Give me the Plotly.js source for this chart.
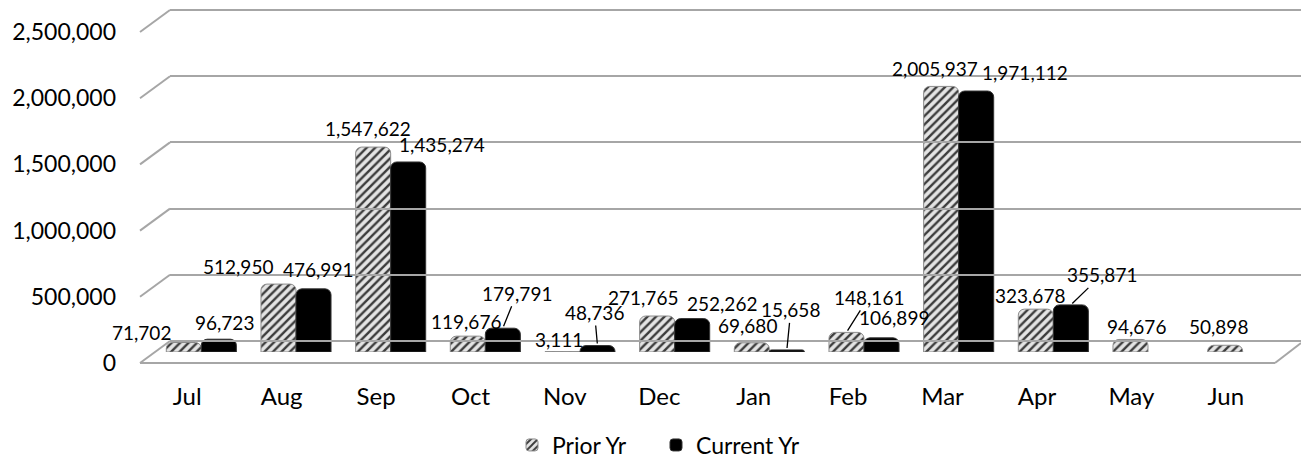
<!DOCTYPE html>
<html>
<head>
<meta charset="utf-8">
<script src="https://cdn.plot.ly/plotly-3.0.1.min.js"></script>
<style>html,body{margin:0;padding:0;background:#fff;}#chart{width:1301px;height:460px;}</style>
</head>
<body>
<div id="chart"></div>
<script>
const months = ['Jul','Aug','Sep','Oct','Nov','Dec','Jan','Feb','Mar','Apr','May','Jun'];
const priorYr = [71702, 512950, 1547622, 119676, 3111, 271765, 69680, 148161, 2005937, 323678, 94676, 50898];
const currentYr = [96723, 476991, 1435274, 179791, 48736, 252262, 15658, 106899, 1971112, 355871, null, null];
const yTickVals = [0, 500000, 1000000, 1500000, 2000000, 2500000];
const yTickText = ['0', '500,000', '1,000,000', '1,500,000', '2,000,000', '2,500,000'];
const seriesNames = ['Prior Yr', 'Current Yr'];

// label placement styles (pixel offsets from bar top, and whether a leader line is drawn)
const priorLabelOffsets = [[-42,-10],[-41,-18],[-5,-19],[-2,-15],[-4,-12],[-14,-19],[-4,-17],[22,-35],[-6,-18],[-6,-14],[6,-13],[-7,-19]];
const priorLeader = [0,0,0,0,0,0,0,1,0,0,0,0];
const currentLabelOffsets = [[6,-17],[4,-19],[34,-17],[14,-35],[-3,-33],[30,-15],[4,-40],[12,-20],[49,-19],[31,-30],[0,0],[0,0]];
const currentLeader = [0,0,0,1,1,0,1,0,0,1,0,0];

const W = 1301, H = 460;
const px = x => Math.min(1, x / W);
const py = y => 1 - y / H;
const yMax = 2500000;
const FONT = 'Lato, "Open Sans", sans-serif';
const fmt = v => v.toLocaleString('en-US');

// geometry (pixels)
const front = {x0: 140, x1: 1273, y0: 363, y1: 32};
const bars  = {x0: 154, x1: 1290, y0: 352, y1: 21};
const back  = {x0: 170, x1: 1301, y0: 341, y1: 10};
const barHalf = 17.5;
const pad = 20000; // small range padding so edge gridlines are drawn
const padPx = pad * (back.y0 - back.y1) / yMax;

const traces = [
  {x: months, y: priorYr, xaxis: 'x', yaxis: 'y', type: 'scatter', mode: 'markers',
   marker: {opacity: 0}, hoverinfo: 'skip', showlegend: false},
  {x: months, y: priorYr, xaxis: 'x3', yaxis: 'y3', type: 'scatter', mode: 'markers',
   marker: {opacity: 0}, hoverinfo: 'skip', showlegend: false},
  {x: months, y: priorYr, name: seriesNames[0], type: 'bar', xaxis: 'x2', yaxis: 'y2',
   marker: {color: '#d9d9d9', cornerradius: 6,
            line: {color: '#8c8c8c', width: 1},
            pattern: {shape: '/', fgcolor: '#3c3c3c', bgcolor: '#e4e4e4', size: 6, solidity: 0.4}},
   hoverinfo: 'skip'},
  {x: months, y: currentYr, name: seriesNames[1], type: 'bar', xaxis: 'x2', yaxis: 'y2',
   marker: {color: '#000000', cornerradius: 6, line: {color: '#333333', width: 1}},
   hoverinfo: 'skip'}
];

const annotations = [];
function addLabels(vals, offs, leaders, shift) {
  vals.forEach((v, i) => {
    if (v === null) return;
    const [dx, dy] = offs[i];
    const a = {x: months[i], y: v, xref: 'x2', yref: 'y2', text: fmt(v),
      font: {family: FONT, size: 19, color: '#000'}};
    if (leaders[i]) {
      Object.assign(a, {showarrow: true, arrowhead: 0, arrowwidth: 1.3, arrowcolor: '#000',
        ax: dx, ay: dy, axref: 'pixel', ayref: 'pixel', xshift: shift, standoff: 2});
    } else {
      Object.assign(a, {showarrow: false, xshift: shift + dx, yshift: -dy,
        xanchor: 'center', yanchor: 'middle'});
    }
    annotations.push(a);
  });
}
addLabels(priorYr, priorLabelOffsets, priorLeader, -barHalf);
addLabels(currentYr, currentLabelOffsets, currentLeader, barHalf);

// 3D wall / floor decoration
const shapes = [];
const lineStyle = {color: '#a6a6a6', width: 2};
const scaleF = (front.y0 - front.y1) / yMax;
const scaleB = (back.y0 - back.y1) / yMax;
yTickVals.forEach(v => {
  shapes.push({type: 'line', xref: 'paper', yref: 'paper',
    x0: px(front.x0), y0: py(front.y0 - v * scaleF),
    x1: px(back.x0), y1: py(back.y0 - v * scaleB), line: lineStyle});
});
shapes.push({type: 'line', xref: 'paper', yref: 'paper',
  x0: px(front.x0), y0: py(front.y0), x1: px(1275), y1: py(front.y0), line: lineStyle});
shapes.push({type: 'line', xref: 'paper', yref: 'paper',
  x0: px(1275), y0: py(front.y0), x1: px(1301), y1: py(343), line: lineStyle});

const layout = {
  width: W, height: H,
  margin: {l: 0, r: 0, t: 0, b: 0, autoexpand: false},
  paper_bgcolor: '#ffffff', plot_bgcolor: 'rgba(0,0,0,0)',
  font: {family: FONT, color: '#000'},
  showlegend: true,
  barmode: 'group', bargap: 0.26, bargroupgap: 0,
  xaxis: {domain: [px(front.x0), px(front.x1)], type: 'category', categoryarray: months,
    range: [-0.5, 11.5], showgrid: false, zeroline: false, showline: false, ticks: '',
    tickfont: {family: FONT, size: 24, color: '#000'}, ticklabelstandoff: 17,
    anchor: 'y', automargin: false, fixedrange: true},
  yaxis: {domain: [py(front.y0), py(front.y1)], range: [0, yMax], tickvals: yTickVals, ticktext: yTickText,
    showgrid: false, zeroline: false, showline: false, ticks: '',
    tickfont: {family: FONT, size: 23, color: '#000'}, ticklabelstandoff: 23,
    anchor: 'x', automargin: false, fixedrange: true},
  xaxis2: {domain: [px(bars.x0), px(bars.x1)], type: 'category', categoryarray: months,
    range: [-0.5, 11.5], visible: false, anchor: 'y2', fixedrange: true},
  yaxis2: {domain: [py(bars.y0), py(bars.y1)], range: [0, yMax], visible: false,
    anchor: 'x2', fixedrange: true},
  xaxis3: {domain: [px(back.x0), px(back.x1)], type: 'category', categoryarray: months,
    showgrid: false, zeroline: false, showline: false, showticklabels: false, ticks: '',
    anchor: 'y3', fixedrange: true},
  yaxis3: {domain: [py(back.y0 + padPx), py(back.y1 - padPx)], range: [-pad, yMax + pad], tickvals: yTickVals,
    showgrid: true, gridcolor: '#a6a6a6', gridwidth: 2, zeroline: false, showline: false,
    showticklabels: false, ticks: '', anchor: 'x3', fixedrange: true},
  legend: {orientation: 'h', x: px(512), xanchor: 'left', y: py(445), yanchor: 'middle',
    font: {family: FONT, size: 23, color: '#000'}, itemwidth: 30, tracegroupgap: 0,
    entrywidth: 99, entrywidthmode: 'pixels',
    bgcolor: 'rgba(0,0,0,0)'},
  annotations: annotations,
  shapes: shapes
};

Plotly.newPlot('chart', traces, layout, {displayModeBar: false, staticPlot: true});
</script>
</body>
</html>
